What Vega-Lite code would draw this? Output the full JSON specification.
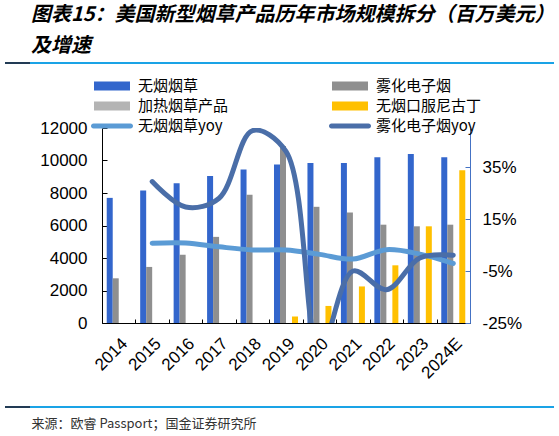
{
  "$schema": "https://vega.github.io/schema/vega-lite/v6.json",
  "width": 368,
  "height": 195,
  "autosize": {"type": "none"},
  "padding": {"left": 102, "top": 128, "right": 89, "bottom": 113},
  "background": "white",
  "config": {"view": {"stroke": null}, "axis": {"grid": false}},
  "title": {
    "text": ["图表15：美国新型烟草产品历年市场规模拆分（百万美元）", "及增速"],
    "anchor": "start",
    "frame": "group",
    "dx": -71,
    "dy": 16,
    "offset": 22,
    "font": "Noto Sans CJK SC",
    "fontSize": 20,
    "fontWeight": "bold",
    "fontStyle": "italic",
    "color": "#000000",
    "lineHeight": 31
  },
  "datasets": {
    "bars": [
      {"year": "2014", "series": "无烟烟草", "value": 7700},
      {"year": "2015", "series": "无烟烟草", "value": 8150},
      {"year": "2016", "series": "无烟烟草", "value": 8600},
      {"year": "2017", "series": "无烟烟草", "value": 9050},
      {"year": "2018", "series": "无烟烟草", "value": 9450},
      {"year": "2019", "series": "无烟烟草", "value": 9750},
      {"year": "2020", "series": "无烟烟草", "value": 9850},
      {"year": "2021", "series": "无烟烟草", "value": 9850},
      {"year": "2022", "series": "无烟烟草", "value": 10200},
      {"year": "2023", "series": "无烟烟草", "value": 10400},
      {"year": "2024E", "series": "无烟烟草", "value": 10200},
      {"year": "2014", "series": "雾化电子烟", "value": 2750},
      {"year": "2015", "series": "雾化电子烟", "value": 3450},
      {"year": "2016", "series": "雾化电子烟", "value": 4200},
      {"year": "2017", "series": "雾化电子烟", "value": 5300},
      {"year": "2018", "series": "雾化电子烟", "value": 7900},
      {"year": "2019", "series": "雾化电子烟", "value": 10900},
      {"year": "2020", "series": "雾化电子烟", "value": 7150},
      {"year": "2021", "series": "雾化电子烟", "value": 6800},
      {"year": "2022", "series": "雾化电子烟", "value": 6050},
      {"year": "2023", "series": "雾化电子烟", "value": 5950},
      {"year": "2024E", "series": "雾化电子烟", "value": 6050},
      {"year": "2014", "series": "加热烟草产品", "value": 0},
      {"year": "2015", "series": "加热烟草产品", "value": 0},
      {"year": "2016", "series": "加热烟草产品", "value": 0},
      {"year": "2017", "series": "加热烟草产品", "value": 0},
      {"year": "2018", "series": "加热烟草产品", "value": 0},
      {"year": "2019", "series": "加热烟草产品", "value": 0},
      {"year": "2020", "series": "加热烟草产品", "value": 0},
      {"year": "2021", "series": "加热烟草产品", "value": 0},
      {"year": "2022", "series": "加热烟草产品", "value": 0},
      {"year": "2023", "series": "加热烟草产品", "value": 0},
      {"year": "2024E", "series": "加热烟草产品", "value": 0},
      {"year": "2014", "series": "无烟口服尼古丁", "value": 0},
      {"year": "2015", "series": "无烟口服尼古丁", "value": 0},
      {"year": "2016", "series": "无烟口服尼古丁", "value": 0},
      {"year": "2017", "series": "无烟口服尼古丁", "value": 0},
      {"year": "2018", "series": "无烟口服尼古丁", "value": 0},
      {"year": "2019", "series": "无烟口服尼古丁", "value": 400},
      {"year": "2020", "series": "无烟口服尼古丁", "value": 1050},
      {"year": "2021", "series": "无烟口服尼古丁", "value": 2250},
      {"year": "2022", "series": "无烟口服尼古丁", "value": 3550},
      {"year": "2023", "series": "无烟口服尼古丁", "value": 5950},
      {"year": "2024E", "series": "无烟口服尼古丁", "value": 9400}
    ],
    "lines": [
      {"year": "2015", "series": "无烟烟草yoy", "yoy": 5.7},
      {"year": "2016", "series": "无烟烟草yoy", "yoy": 5.8},
      {"year": "2017", "series": "无烟烟草yoy", "yoy": 4.3},
      {"year": "2018", "series": "无烟烟草yoy", "yoy": 3.1},
      {"year": "2019", "series": "无烟烟草yoy", "yoy": 3.1},
      {"year": "2020", "series": "无烟烟草yoy", "yoy": 1.4},
      {"year": "2021", "series": "无烟烟草yoy", "yoy": -0.4},
      {"year": "2022", "series": "无烟烟草yoy", "yoy": 3.2},
      {"year": "2023", "series": "无烟烟草yoy", "yoy": 1.5},
      {"year": "2024E", "series": "无烟烟草yoy", "yoy": -2.1},
      {"year": "2015", "series": "雾化电子烟yoy", "yoy": 29.4},
      {"year": "2016", "series": "雾化电子烟yoy", "yoy": 19.6},
      {"year": "2017", "series": "雾化电子烟yoy", "yoy": 23.0},
      {"year": "2018", "series": "雾化电子烟yoy", "yoy": 49.0},
      {"year": "2019", "series": "雾化电子烟yoy", "yoy": 41.0},
      {"year": "2020", "series": "雾化电子烟yoy", "yoy": -36.0},
      {"year": "2021", "series": "雾化电子烟yoy", "yoy": -5.0},
      {"year": "2022", "series": "雾化电子烟yoy", "yoy": -12.2},
      {"year": "2023", "series": "雾化电子烟yoy", "yoy": 0.0},
      {"year": "2024E", "series": "雾化电子烟yoy", "yoy": 1.1}
    ]
  },
  "layer": [
    {
      "data": {"name": "bars"},
      "mark": {"type": "bar"},
      "encoding": {
        "x": {
          "field": "year",
          "type": "nominal",
          "scale": {
            "domain": ["2014", "2015", "2016", "2017", "2018", "2019", "2020", "2021", "2022", "2023", "2024E"],
            "paddingInner": 0,
            "paddingOuter": 0
          },
          "axis": {
            "title": "来源：欧睿 Passport；国金证券研究所",
            "titleX": -71,
            "titleY": 100,
            "titleAlign": "left",
            "titleAnchor": "start",
            "titleBaseline": "middle",
            "titleFont": "Noto Sans CJK SC",
            "titleFontSize": 13,
            "titleFontWeight": "normal",
            "titleColor": "#333333",
            "labelAngle": -45,
            "labelFont": "Liberation Sans",
            "labelFontSize": 17,
            "labelColor": "#000000",
            "labelPadding": 16,
            "tickBand": "extent",
            "tickSize": -4,
            "tickColor": "#000000",
            "domainColor": "#000000"
          }
        },
        "xOffset": {
          "field": "series",
          "type": "nominal",
          "scale": {
            "domain": ["无烟烟草", "雾化电子烟", "加热烟草产品", "无烟口服尼古丁"],
            "paddingInner": 0,
            "paddingOuter": 0.7875
          }
        },
        "y": {
          "field": "value",
          "type": "quantitative",
          "scale": {"domain": [0, 12000], "nice": false},
          "axis": {
            "title": null,
            "values": [0, 2000, 4000, 6000, 8000, 10000, 12000],
            "format": "d",
            "labelFont": "Liberation Sans",
            "labelFontSize": 17,
            "labelColor": "#000000",
            "labelPadding": 20,
            "labelFlush": false,
            "labelOverlap": false,
            "tickSize": -5,
            "tickColor": "#000000",
            "domainColor": "#000000"
          }
        },
        "color": {
          "field": "series",
          "type": "nominal",
          "scale": {
            "domain": ["无烟烟草", "加热烟草产品", "无烟烟草yoy", "雾化电子烟", "无烟口服尼古丁", "雾化电子烟yoy"],
            "range": ["#3366CC", "#B4B4B4", "#5B9BD5", "#8F8F8F", "#FFC000", "#4A6EA8"]
          },
          "legend": {
            "orient": "none",
            "legendX": 0,
            "legendY": -52,
            "columns": 2,
            "title": null,
            "padding": 0,
            "symbolSize": 400,
            "labelFont": "Noto Sans CJK SC",
            "labelFontSize": 15,
            "labelColor": "#000000",
            "labelOffset": 16,
            "columnPadding": 100,
            "rowPadding": 2,
            "encode": {
              "symbols": {
                "update": {
                  "shape": {"signal": "indexof(datum.value, 'yoy') >= 0 ? 'M-1.85,-0.25H1.85A0.25,0.25 0 0 1 1.85,0.25H-1.85A0.25,0.25 0 0 1 -1.85,-0.25Z' : 'M-1.8,-0.45H1.8V0.45H-1.8Z'"},
                  "fill": {"scale": "color", "field": "value"},
                  "strokeWidth": {"value": 0},
                  "opacity": {"value": 1}
                }
              }
            }
          }
        }
      }
    },
    {
      "data": {"name": "lines"},
      "mark": {"type": "line", "interpolate": "catmull-rom", "strokeWidth": 5, "strokeCap": "round", "clip": true},
      "encoding": {
        "x": {
          "field": "year",
          "type": "nominal",
          "scale": {
            "domain": ["2014", "2015", "2016", "2017", "2018", "2019", "2020", "2021", "2022", "2023", "2024E"],
            "paddingInner": 0,
            "paddingOuter": 0
          },
          "axis": null
        },
        "y": {
          "field": "yoy",
          "type": "quantitative",
          "scale": {"domain": [-25, 50], "nice": false, "zero": false},
          "axis": {
            "orient": "right",
            "title": null,
            "values": [-25, -5, 15, 35],
            "labelExpr": "datum.value + '%'",
            "labelFont": "Liberation Sans",
            "labelFontSize": 17,
            "labelColor": "#000000",
            "labelPadding": 17,
            "labelFlush": false,
            "labelOverlap": false,
            "tickSize": -5,
            "tickColor": "#4472C4",
            "domainColor": "#4472C4"
          }
        },
        "color": {"field": "series", "type": "nominal"}
      }
    },
    {
      "data": {"values": [{"part": "header"}]},
      "mark": {"type": "rule", "color": "#1AA3E6", "strokeWidth": 2},
      "encoding": {
        "x": {"datum": -0.2636, "type": "quantitative", "scale": {"domain": [0, 1], "nice": false, "zero": false}, "axis": null},
        "x2": {"datum": 1.2283},
        "y": {"datum": 1.3333, "type": "quantitative", "scale": {"domain": [0, 1], "nice": false, "zero": false}, "axis": null}
      }
    },
    {
      "data": {"values": [{"part": "header"}]},
      "mark": {"type": "rule", "color": "#223B55", "strokeWidth": 2},
      "encoding": {
        "x": {"datum": -0.2636, "type": "quantitative", "scale": {"domain": [0, 1], "nice": false, "zero": false}, "axis": null},
        "x2": {"datum": -0.1957},
        "y": {"datum": 1.3333, "type": "quantitative", "scale": {"domain": [0, 1], "nice": false, "zero": false}, "axis": null}
      }
    },
    {
      "data": {"values": [{"part": "footer"}]},
      "mark": {"type": "rule", "color": "#1AA3E6", "strokeWidth": 2},
      "encoding": {
        "x": {"datum": -0.2636, "type": "quantitative", "scale": {"domain": [0, 1], "nice": false, "zero": false}, "axis": null},
        "x2": {"datum": 1.2283},
        "y": {"datum": -0.4308, "type": "quantitative", "scale": {"domain": [0, 1], "nice": false, "zero": false}, "axis": null}
      }
    },
    {
      "data": {"values": [{"part": "footer"}]},
      "mark": {"type": "rule", "color": "#223B55", "strokeWidth": 2},
      "encoding": {
        "x": {"datum": -0.2636, "type": "quantitative", "scale": {"domain": [0, 1], "nice": false, "zero": false}, "axis": null},
        "x2": {"datum": -0.1957},
        "y": {"datum": -0.4308, "type": "quantitative", "scale": {"domain": [0, 1], "nice": false, "zero": false}, "axis": null}
      }
    }
  ],
  "resolve": {"scale": {"x": "independent", "y": "independent"}}
}
